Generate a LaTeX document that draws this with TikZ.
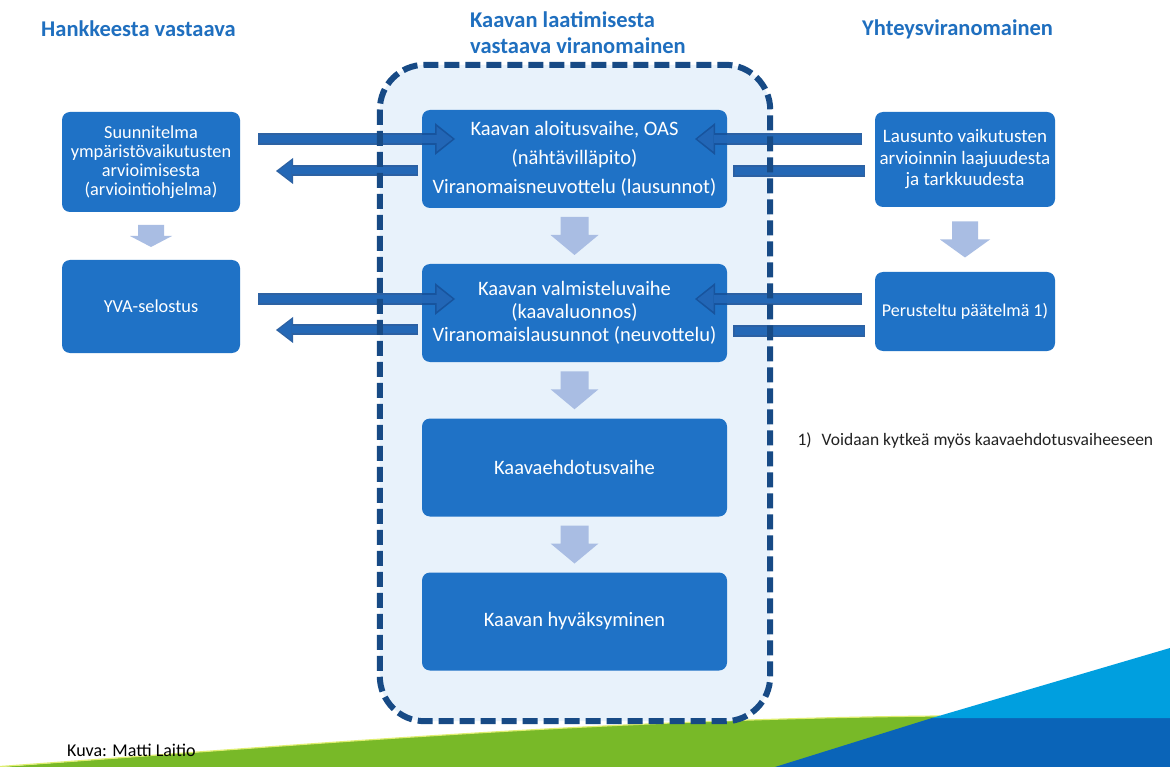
\documentclass[tikz,border=0pt]{standalone}
\usepackage{fontspec}
\setmainfont{Carlito}
\usetikzlibrary{arrows.meta,calc}
\definecolor{boxblue}{HTML}{1F72C6}
\definecolor{titleblue}{HTML}{1F6FBF}
\definecolor{dashblue}{HTML}{174A85}
\definecolor{contfill}{HTML}{E8F2FB}
\definecolor{dnfillc}{HTML}{A9BDE3}
\definecolor{arrdark}{HTML}{17519A}
\definecolor{arrlight}{HTML}{2469B9}
\definecolor{bggreen}{HTML}{78B928}
\definecolor{bgdark}{HTML}{0A64B8}
\definecolor{bglight}{HTML}{009FDF}
\definecolor{notegray}{HTML}{222222}
\newcommand\blkdown[5]{%
  \fill[dnfill] ($(#1)+(-#3,-#2)$) -- ($(#1)+(#3,-#2)$) -- ($(#1)+(#3,#2-#5)$)
    -- ($(#1)+(#4,#2-#5)$) -- ($(#1)+(0,#2)$) -- ($(#1)+(-#4,#2-#5)$)
    -- ($(#1)+(-#3,#2-#5)$) -- cycle;}
\begin{document}
\begin{tikzpicture}[x=1pt,y=-1pt,
  box/.style={fill=boxblue, rounded corners=8pt, text=white, align=center, inner sep=0pt},
  cbox/.style={box, minimum width=305pt, minimum height=98pt, font=\fontsize{20.5}{23}\selectfont},
  lbox/.style={box, minimum width=178pt, font=\fontsize{18.3}{19}\selectfont},
  rbox/.style={box, minimum width=180pt, font=\fontsize{19}{21.5}\selectfont},
  title/.style={text=titleblue, font=\fontsize{22.5}{26}\selectfont\bfseries},
  dnfill/.style={fill=dnfillc},
  harrowout/.style={line width=12pt, draw=arrdark, opacity=0.9,
    -{Triangle[length=20pt,width=32pt,line width=0pt]}},
  harrowin/.style={line width=8pt, draw=arrlight, opacity=0.9, shorten >=2.5pt, shorten <=1.5pt,
    -{Triangle[length=16pt,width=25pt,line width=0pt]}},
  larrowout/.style={line width=11pt, draw=arrdark, opacity=0.9,
    -{Triangle[length=17pt,width=26pt,line width=0pt]}},
  larrowin/.style={line width=7pt, draw=arrlight, opacity=0.9, shorten >=2.5pt, shorten <=1.5pt,
    -{Triangle[length=13pt,width=20pt,line width=0pt]}},
  barout/.style={line width=12pt, draw=arrdark, opacity=0.9},
  barin/.style={line width=8pt, draw=arrlight, opacity=0.9, shorten >=1.5pt, shorten <=1.5pt},
]
\useasboundingbox (0,0) rectangle (1170,767);
\fill[white] (0,0) rectangle (1170,767);
% bottom decoration
\fill[bggreen] (0,767) .. controls (300,745) and (600,719) .. (940,716) -- (940,767) -- cycle;
\draw[line width=1.2pt, draw=bggreen!40!yellow!60!white] (0,766.5) .. controls (300,745) and (600,719) .. (940,716);
\fill[bgdark] (775,767) -- (932,718) -- (1170,718) -- (1170,767) -- cycle;
\fill[bglight] (932,718) -- (1170,648) -- (1170,718) -- cycle;
\node[anchor=west, text=black, font=\fontsize{18}{20}\selectfont, inner sep=0pt] (kuva) at (67,750) {Kuva: Matti Laitio};

% titles
\node[title, anchor=west, inner sep=0pt] (t1) at (41,29) {Hankkeesta vastaava};
\node[title, anchor=west, inner sep=0pt, align=left] (t2) at (470,33) {Kaavan laatimisesta\\vastaava viranomainen};
\node[title, anchor=west, inner sep=0pt] (t3) at (862,29) {Yhteysviranomainen};

% container
\node[minimum width=390pt, minimum height=656pt, inner sep=0pt] (cont) at (575,393) {};
\fill[contfill, rounded corners=45pt] (cont.north west) rectangle (cont.south east);

% center boxes
\node[cbox, font=\fontsize{20.5}{29}\selectfont] (c1) at (574.5,159) {Kaavan aloitusvaihe, OAS\\(nähtävilläpito)\\Viranomaisneuvottelu (lausunnot)};
\node[cbox] (c2) at (574.5,313) {Kaavan valmisteluvaihe\\(kaavaluonnos)\\Viranomaislausunnot (neuvottelu)};
\node[cbox] (c3) at (574.5,467.5) {Kaavaehdotusvaihe};
\node[cbox] (c4) at (574.5,621.5) {Kaavan hyväksyminen};

% left boxes
\node[lbox, minimum height=100pt] (l1) at (151,162) {Suunnitelma\\ympäristövaikutusten\\arvioimisesta\\(arviointiohjelma)};
\node[lbox, minimum height=93pt] (l2) at (151,306.5) {YVA-selostus};

% right boxes
\node[rbox, minimum height=95pt] (r1) at (965,159.5) {Lausunto vaikutusten\\arvioinnin laajuudesta\\ja tarkkuudesta};
\node[rbox, minimum height=79pt, font=\fontsize{18}{20}\selectfont] (r2) at (965,311.5) {Perusteltu päätelmä 1)};

% note
\node[anchor=west, text=notegray, font=\fontsize{17.5}{20}\selectfont] (note) at (794,441) {1)\hspace{10pt}Voidaan kytkeä myös kaavaehdotusvaiheeseen};

% down arrows
\coordinate (dl) at ($(l1.south)!0.5!(l2.north)$);
\coordinate (dc1) at ($(c1.south)!0.5!(c2.north)$);
\coordinate (dc2) at ($(c2.south)!0.5!(c3.north)$);
\coordinate (dc3) at ($(c3.south)!0.5!(c4.north)$);
\coordinate (dr) at ($(r1.south)!0.5!(r2.north)$);
\blkdown{dl}{11}{13}{21}{11}
\blkdown{dc1}{19}{14}{24}{20}
\blkdown{dc2}{19}{14}{24}{20}
\blkdown{dc3}{19}{14}{24}{20}
\blkdown{dr}{18}{13}{25}{18}

% horizontal arrows
\coordinate (a1s) at (258,139); \coordinate (a1e) at (455,139);
\coordinate (a2s) at (418,171); \coordinate (a2e) at (276,171);
\coordinate (a3s) at (862,139); \coordinate (a3e) at (695,139);
\coordinate (a4s) at (733,171); \coordinate (a4e) at (865,171);
\coordinate (b1s) at (258,299); \coordinate (b1e) at (455,299);
\coordinate (b2s) at (418,330); \coordinate (b2e) at (276,330);
\coordinate (b3s) at (862,299); \coordinate (b3e) at (695,299);
\coordinate (b4s) at (733,331); \coordinate (b4e) at (865,331);

\draw[harrowout] (a1s) -- (a1e); \draw[harrowin] (a1s) -- (a1e);
\draw[larrowout] (a2s) -- (a2e); \draw[larrowin] (a2s) -- (a2e);
\draw[harrowout] (a3s) -- (a3e); \draw[harrowin] (a3s) -- (a3e);
\draw[barout] (a4s) -- (a4e); \draw[barin] (a4s) -- (a4e);
\draw[harrowout] (b1s) -- (b1e); \draw[harrowin] (b1s) -- (b1e);
\draw[larrowout] (b2s) -- (b2e); \draw[larrowin] (b2s) -- (b2e);
\draw[harrowout] (b3s) -- (b3e); \draw[harrowin] (b3s) -- (b3e);
\draw[barout] (b4s) -- (b4e); \draw[barin] (b4s) -- (b4e);

% dashed border on top
\draw[draw=dashblue, line width=6pt, dash pattern=on 15pt off 6pt, rounded corners=45pt]
  (cont.north west) rectangle (cont.south east);
\end{tikzpicture}
\end{document}
